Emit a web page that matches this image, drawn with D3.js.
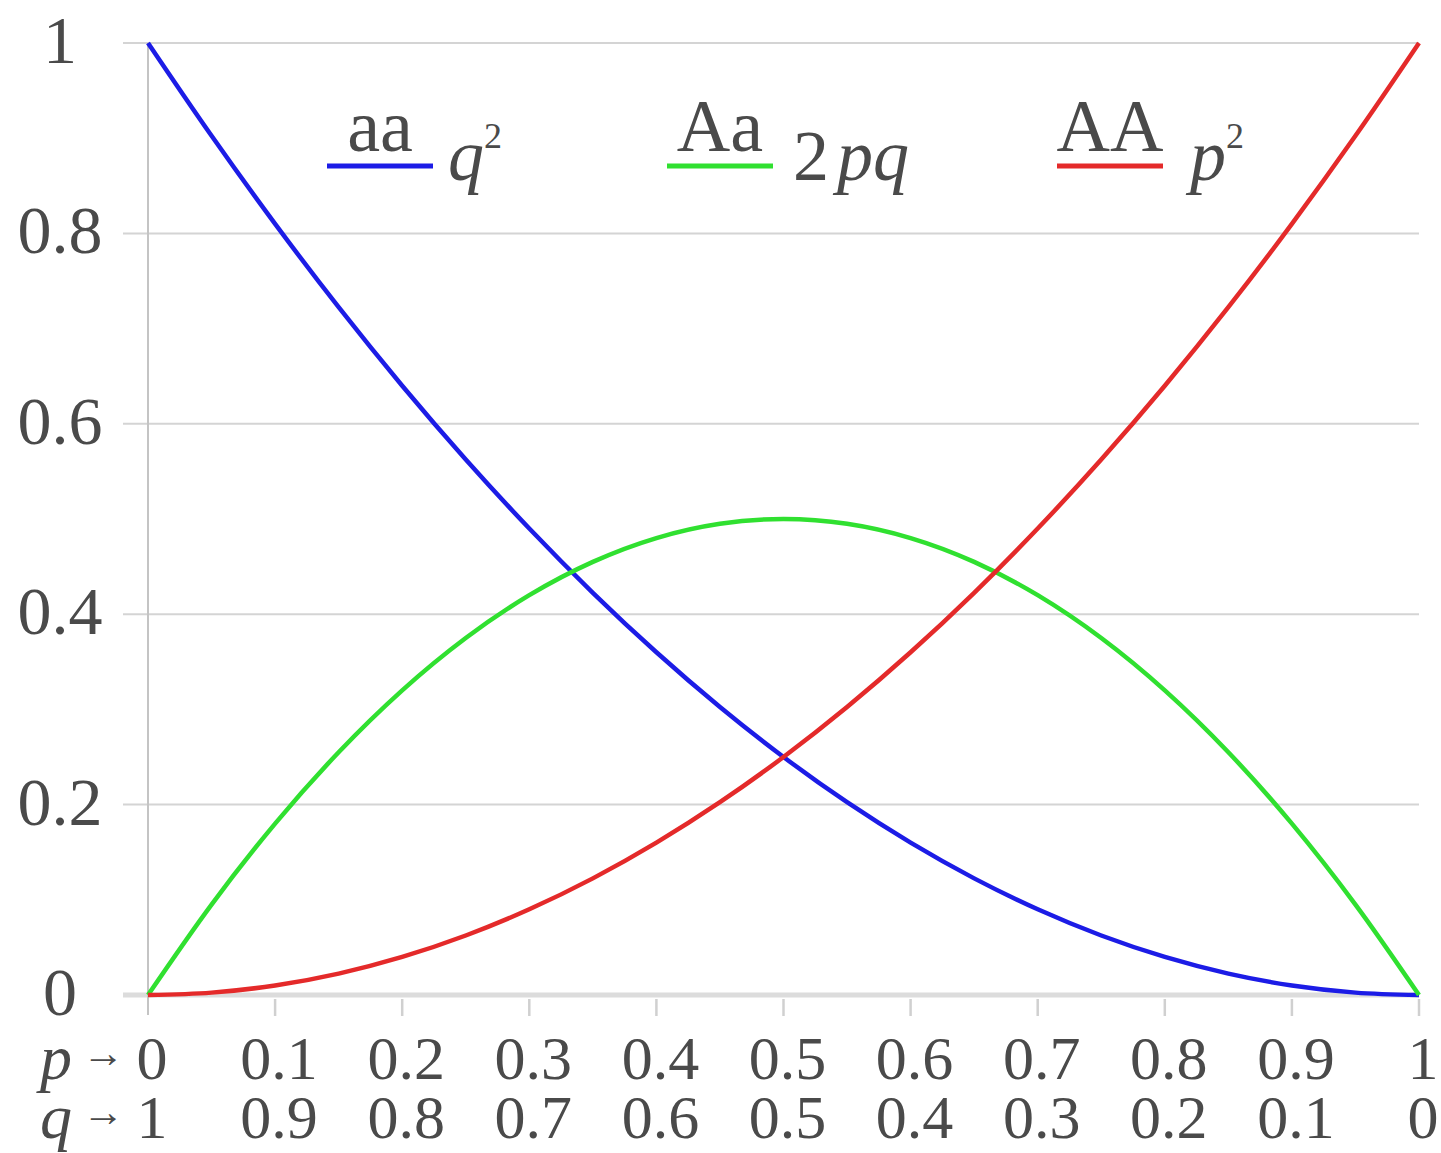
<!DOCTYPE html>
<html>
<head>
<meta charset="utf-8">
<script src="https://cdn.jsdelivr.net/npm/d3@7"></script>
<style>
  body { margin: 0; background: #fff; }
  svg text { font-family: "Liberation Serif", serif; fill: #4a4a4a; }
</style>
</head>
<body>
<svg id="chart" width="1441" height="1153"></svg>
<script>
// allele frequency p (step 0.05)
var pValues = [0, 0.05, 0.1, 0.15, 0.2, 0.25, 0.3, 0.35, 0.4, 0.45, 0.5,
               0.55, 0.6, 0.65, 0.7, 0.75, 0.8, 0.85, 0.9, 0.95, 1];
// aa  (q^2)
var aaValues = [1, 0.9025, 0.81, 0.7225, 0.64, 0.5625, 0.49, 0.4225, 0.36, 0.3025, 0.25,
                0.2025, 0.16, 0.1225, 0.09, 0.0625, 0.04, 0.0225, 0.01, 0.0025, 0];
// Aa  (2pq)
var AaValues = [0, 0.095, 0.18, 0.255, 0.32, 0.375, 0.42, 0.455, 0.48, 0.495, 0.5,
                0.495, 0.48, 0.455, 0.42, 0.375, 0.32, 0.255, 0.18, 0.095, 0];
// AA  (p^2)
var AAValues = [0, 0.0025, 0.01, 0.0225, 0.04, 0.0625, 0.09, 0.1225, 0.16, 0.2025, 0.25,
                0.3025, 0.36, 0.4225, 0.49, 0.5625, 0.64, 0.7225, 0.81, 0.9025, 1];

var xTicks = [0, 0.1, 0.2, 0.3, 0.4, 0.5, 0.6, 0.7, 0.8, 0.9, 1];
var pLabels = ["0", "0.1", "0.2", "0.3", "0.4", "0.5", "0.6", "0.7", "0.8", "0.9", "1"];
var qLabels = ["1", "0.9", "0.8", "0.7", "0.6", "0.5", "0.4", "0.3", "0.2", "0.1", "0"];
var yTicks = [0, 0.2, 0.4, 0.6, 0.8, 1];
var yLabels = ["0", "0.2", "0.4", "0.6", "0.8", "1"];

var seriesNames = ["aa", "Aa", "AA"];
var seriesColors = ["#1c1ce6", "#30e030", "#e42a2a"];

var svg = d3.select("#chart");
var x = d3.scaleLinear().domain([0, 1]).range([148, 1419]);
var y = d3.scaleLinear().domain([0, 1]).range([995, 43]);

// horizontal grid
svg.append("g").selectAll("line")
  .data(yTicks.filter(function(d){ return d > 0; }))
  .enter().append("line")
  .attr("x1", 123).attr("x2", x(1))
  .attr("y1", function(d){ return y(d); })
  .attr("y2", function(d){ return y(d); })
  .attr("stroke", "#d4d4d4").attr("stroke-width", 2);

// baseline (thicker)
svg.append("line")
  .attr("x1", 123).attr("x2", x(1))
  .attr("y1", y(0)).attr("y2", y(0))
  .attr("stroke", "#dcdcdc").attr("stroke-width", 5);

// vertical axis line
svg.append("line")
  .attr("x1", x(0)).attr("x2", x(0))
  .attr("y1", y(1)).attr("y2", 1015)
  .attr("stroke", "#c4c4c4").attr("stroke-width", 2);

// x ticks below the axis
svg.append("g").selectAll("line")
  .data(xTicks.slice(1))
  .enter().append("line")
  .attr("x1", function(d){ return x(d); })
  .attr("x2", function(d){ return x(d); })
  .attr("y1", 999).attr("y2", 1016)
  .attr("stroke", "#d0d0d0").attr("stroke-width", 2.5);

// y labels
svg.append("g").selectAll("text")
  .data(yTicks)
  .enter().append("text")
  .attr("x", 60)
  .attr("y", function(d){ return y(d) + 20; })
  .attr("text-anchor", "middle")
  .attr("font-size", 68)
  .text(function(d, i){ return yLabels[i]; });

// x labels, two rows
svg.append("g").selectAll("text")
  .data(xTicks)
  .enter().append("text")
  .attr("x", function(d){ return x(d) + 4; })
  .attr("y", 1079)
  .attr("text-anchor", "middle")
  .attr("font-size", 62)
  .text(function(d, i){ return pLabels[i]; });

svg.append("g").selectAll("text")
  .data(xTicks)
  .enter().append("text")
  .attr("x", function(d){ return x(d) + 4; })
  .attr("y", 1138)
  .attr("text-anchor", "middle")
  .attr("font-size", 62)
  .text(function(d, i){ return qLabels[i]; });

// row captions p-> and q->
[["p", 1079], ["q", 1138]].forEach(function(r){
  svg.append("text").attr("x", 40).attr("y", r[1])
    .attr("font-size", 64).attr("font-style", "italic").text(r[0]);
  svg.append("text").attr("x", 82).attr("y", r[1] - 12)
    .attr("font-size", 42).attr("font-family", "DejaVu Sans").attr("fill", "#666").text("\u2192");
});

// curves
var line = d3.line()
  .x(function(d){ return x(d[0]); })
  .y(function(d){ return y(d[1]); })
  .curve(d3.curveMonotoneX);

[aaValues, AaValues, AAValues].forEach(function(vals, i){
  svg.append("path")
    .datum(pValues.map(function(p, j){ return [p, vals[j]]; }))
    .attr("d", line)
    .attr("fill", "none")
    .attr("stroke", seriesColors[i])
    .attr("stroke-width", 4.5);
});

// legend
var legendX = [327, 667, 1057];
seriesNames.forEach(function(name, i){
  var lx = legendX[i];
  svg.append("line")
    .attr("x1", lx).attr("x2", lx + 106)
    .attr("y1", 166).attr("y2", 166)
    .attr("stroke", seriesColors[i]).attr("stroke-width", 5);
  svg.append("text")
    .attr("x", lx + 53).attr("y", 151)
    .attr("text-anchor", "middle")
    .attr("font-size", 74)
    .text(name);
});

// legend formulas
var f1 = svg.append("text").attr("x", 448).attr("y", 180).attr("font-size", 72);
f1.append("tspan").attr("font-style", "italic").text("q");
f1.append("tspan").attr("font-size", 36).attr("dy", -32).text("2");

var f2 = svg.append("text").attr("x", 793).attr("y", 180).attr("font-size", 72);
f2.append("tspan").text("2");
f2.append("tspan").attr("font-style", "italic").attr("dx", 8).text("pq");

var f3 = svg.append("text").attr("x", 1190).attr("y", 180).attr("font-size", 72);
f3.append("tspan").attr("font-style", "italic").text("p");
f3.append("tspan").attr("font-size", 36).attr("dy", -32).text("2");
</script>
</body>
</html>
